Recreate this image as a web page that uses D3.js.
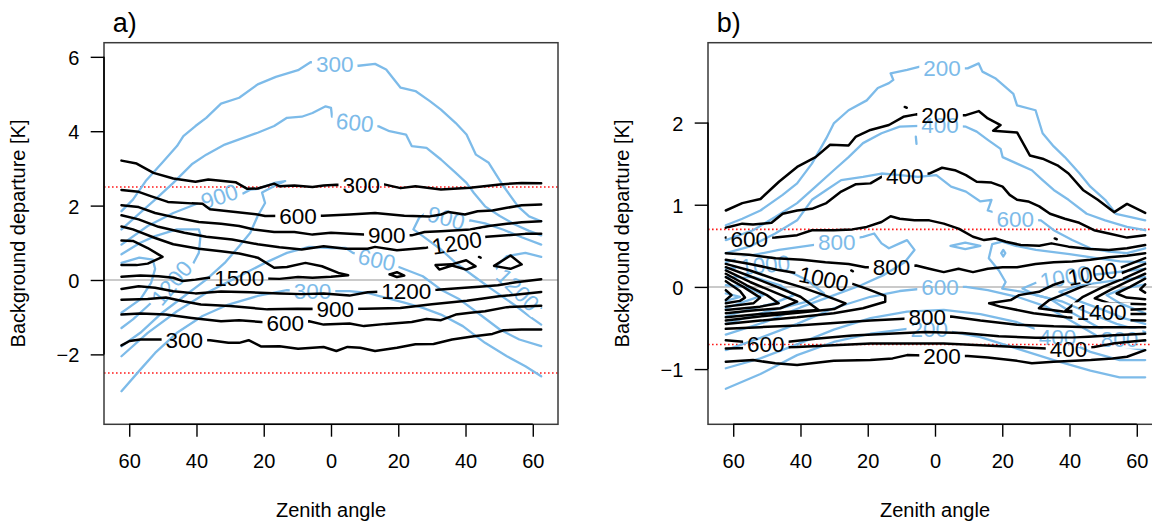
<!DOCTYPE html>
<html><head><meta charset="utf-8">
<script src="https://cdn.jsdelivr.net/npm/d3@7"></script>
<style>body{margin:0;background:#fff}svg{display:block}text{font-family:"Liberation Sans",Arial,Helvetica,sans-serif}</style>
</head><body><svg id="c" width="1152" height="523"></svg>
<script>
// ---------- axes data ----------
const xDomain = [-67.5, 67.5];
const xTicks = [-60, -40, -20, 0, 20, 40, 60];
const xTickLabels = ["60", "40", "20", "0", "20", "40", "60"];
const aYDomain = [-3.88, 6.38];
const aYTicks = [-2, 0, 2, 4, 6];
const aYTickLabels = ["\u22122", "0", "2", "4", "6"];
const bYDomain = [-1.672, 2.972];
const bYTicks = [-1, 0, 1, 2];
const bYTickLabels = ["\u22121", "0", "1", "2"];
const aRefLines = [2.5, -2.5];
const bRefLines = [0.7, -0.7];

// ---------- panel a : black contours ----------
const aK300Up = [[-62.3,3.21],[-57.8,3.13],[-52.8,2.88],[-46.9,2.73],[-40.3,2.64],[-36.5,2.70],[-28.4,2.63],[-24.9,2.45],[-21.8,2.46],[-16.9,2.59],[-15.3,2.52],[-10.9,2.54],[-5.5,2.50],[-2.2,2.54],[1.6,2.56],[9,2.55],[15.8,2.57],[20.7,2.47],[25.1,2.52],[32.7,2.43],[41.4,2.48],[50.2,2.57],[56.7,2.61],[62.5,2.60]];
const aK600Up = [[-62.3,2.42],[-57.2,2.37],[-53.4,2.25],[-48.5,2.10],[-41.4,2.06],[-38.2,2.05],[-36.0,1.90],[-28.4,1.83],[-21.8,1.76],[-19.6,1.72],[-9.8,1.73],[-2.4,1.73],[5.5,1.76],[13.1,1.80],[21.8,1.73],[29.4,1.71],[32.7,1.76],[34.9,1.83],[39.8,1.76],[43.6,1.85],[48.0,1.87],[52.3,1.94],[56.7,2.01],[62.5,2.03]];
const aK900Up = [[-62.3,2.01],[-57.2,1.96],[-52.3,1.80],[-45.8,1.67],[-39.3,1.56],[-32.7,1.51],[-27.3,1.45],[-22.9,1.36],[-16.9,1.29],[-10.9,1.29],[-5.5,1.22],[0,1.27],[9.8,1.22],[16.6,1.21],[24.0,1.20],[27.8,1.29],[32.7,1.31],[41.4,1.36],[46.9,1.45],[52.3,1.51],[56.7,1.55],[62.5,1.58]];
const aK1200Up = [[-62.3,1.74],[-57.2,1.63],[-51.3,1.43],[-43.6,1.27],[-37.1,1.16],[-29.4,1.09],[-21.8,0.96],[-15.3,0.88],[-8.7,0.82],[-2.2,0.91],[4.4,0.84],[10.9,0.84],[13.1,0.89],[19.6,0.80],[28.4,0.87],[37.4,1.0],[46.3,1.16],[52.3,1.20],[57.8,1.24],[62.5,1.24]];
const aK1500 = [[-62.3,1.44],[-58.9,1.36],[-52.3,1.13],[-46.9,0.96],[-39.3,0.84],[-32.7,0.77],[-27.3,0.71],[-21.8,0.60],[-16.9,0.33],[-13.1,0.35],[-7.6,0.46],[-2.7,0.37],[2.2,0.19],[5.1,0.13],[0,0.09],[-5.5,0.06],[-9.8,0.08],[-15.3,0.03],[-27.3,0.06],[-36.5,0.06],[-40.3,0.01],[-44.1,-0.03],[-46.9,0.06],[-51.3,0.10],[-56.7,0.12],[-62.3,0.09]];
const aK1800 = [[-62.3,1.06],[-58.9,1.05],[-54.5,0.86],[-50.1,0.62],[-54.5,0.44],[-57.8,0.40],[-62.3,0.40]];
const aK1500LoopA = [[17.4,0.15],[19.6,0.21],[21.8,0.12],[19.6,0.08],[17.4,0.15]];
const aK1500LoopB = [[31.1,0.40],[35.9,0.42],[40.2,0.53],[43.0,0.37],[40.2,0.28],[36.0,0.39],[32.2,0.28],[31.1,0.40]];
const aK1500LoopC = [[48.5,0.38],[53.4,0.66],[56.7,0.42],[53.4,0.30],[48.5,0.38]];
const aK1500Dot = [[44.0,0.62],[44.5,0.60]];
const aK1200Lo = [[-62.3,-0.24],[-57.2,-0.17],[-52.3,-0.21],[-46.9,-0.30],[-40.3,-0.36],[-32.7,-0.31],[-24.0,-0.33],[-15.3,-0.36],[-8.7,-0.38],[-2.2,-0.36],[5.5,-0.42],[10.9,-0.33],[22.4,-0.28],[31.6,-0.26],[39.8,-0.21],[44.1,-0.18],[49.6,-0.14],[55.0,-0.06],[62.5,0.02]];
const aK900Lo = [[-62.3,-0.53],[-54.5,-0.51],[-49.1,-0.47],[-43.6,-0.58],[-38.7,-0.66],[-30,-0.70],[-18.9,-0.79],[-10,-0.77],[1.3,-0.78],[10,-0.77],[20.6,-0.75],[30,-0.65],[40.4,-0.56],[50,-0.44],[62.5,-0.32]];
const aK600Lo = [[-62.3,-0.93],[-56.7,-0.90],[-49.1,-0.93],[-41.4,-1.02],[-32.7,-1.11],[-27.3,-1.08],[-20.7,-1.13],[-13.6,-1.15],[-6.5,-1.11],[-2.2,-1.20],[5.5,-1.17],[9.8,-1.24],[16.4,-1.18],[24.0,-1.13],[28.4,-1.05],[32.7,-1.08],[37.1,-0.93],[41.4,-0.88],[45.8,-0.84],[52.3,-0.73],[56.7,-0.71],[62.5,-0.69]];
const aK300Lo = [[-62.3,-1.76],[-59.9,-1.64],[-56.7,-1.60],[-51.3,-1.60],[-43.6,-1.60],[-36.0,-1.62],[-30.5,-1.69],[-27.3,-1.69],[-24.5,-1.62],[-20.7,-1.79],[-15.3,-1.78],[-9.8,-1.85],[-2.2,-1.80],[1.6,-1.91],[4.9,-1.80],[8.7,-1.82],[13.1,-1.91],[19.6,-1.82],[25.1,-1.73],[30.5,-1.72],[36.0,-1.60],[42.5,-1.51],[48.0,-1.45],[51.3,-1.35],[56.7,-1.33],[62.5,-1.33]];
const aBlackLines = [aK300Up, aK600Up, aK900Up, aK1200Up, aK1500, aK1800, aK1500LoopA, aK1500LoopB, aK1500LoopC, aK1500Dot, aK1200Lo, aK900Lo, aK600Lo, aK300Lo];
const aBlackLabels = [[9.0,2.55,"300",0],[-9.8,1.73,"600",0],[16.6,1.21,"900",0],[37.4,1.0,"1200",-9],[-27.3,0.06,"1500",0],[22.4,-0.28,"1200",0],[1.3,-0.78,"900",0],[-13.6,-1.15,"600",0],[-43.6,-1.60,"300",0]];

// ---------- panel a : blue contours ----------
const aB300Up = [[-62.3,1.85],[-58.9,2.16],[-55.1,2.66],[-50.2,3.15],[-45.8,3.60],[-43.9,3.87],[-40.3,4.14],[-37.1,4.36],[-32.7,4.74],[-27.3,4.90],[-21.8,5.26],[-16.4,5.46],[-9.8,5.64],[-6.0,5.86],[1.1,5.81],[8.2,5.76],[13.1,5.81],[16.4,5.66],[20.7,5.17],[25.1,5.08],[29.4,4.81],[32.7,4.58],[37.1,4.22],[40.3,3.91],[43.1,3.37],[46.9,3.15],[51.3,2.52],[55.6,1.98],[58.9,1.71],[62.5,1.58]];
const aB600Up = [[-62.3,1.36],[-56.7,1.81],[-52.3,2.16],[-46.9,2.61],[-41.4,3.11],[-37.1,3.37],[-31.6,3.64],[-27.3,3.78],[-21.8,3.96],[-16.9,4.14],[-13.1,4.36],[-8.7,4.39],[-5.5,4.49],[-1.6,4.67],[0,4.63],[0.3,4.39],[7.1,4.24],[14.2,4.13],[17.4,4.00],[22.3,3.91],[24.0,3.60],[28.4,3.55],[32.7,3.24],[37.1,2.88],[40.3,2.61],[42.5,2.34],[45.8,1.98],[50.2,1.72],[54.5,1.50],[58.9,1.32],[62.5,1.20]];
const aB900Left = [[-62.3,0.95],[-54.5,1.45],[-46.9,1.80],[-39.3,2.07],[-33.2,2.25],[-26.7,2.30],[-24.0,2.43],[-21.8,2.45],[-16.4,2.62],[-13.6,2.66],[-16.4,2.55],[-20.5,2.35],[-19.6,2.07],[-21.8,1.72],[-24.0,1.27],[-27.3,0.91],[-31.6,0.46],[-37.1,0.01],[-43.6,-0.43],[-50.2,-0.88],[-56.7,-1.42],[-62.3,-1.78]];
const aB900Right = [[62.5,0.95],[56.7,1.15],[51.3,1.35],[45.8,1.52],[41.4,1.60],[34.3,1.67],[28.4,1.81],[26.2,1.67],[24.5,1.36],[27.3,1.18],[32.7,0.82],[37.1,0.46],[42.5,0.10],[48.0,-0.26],[55.0,-0.70],[58.9,-0.97],[62.5,-1.20]];
const aB1200Left = [[-62.3,0.69],[-56.7,1.0],[-52.3,1.18],[-45.8,1.36],[-39.3,1.36],[-38.8,1.2],[-39.3,0.73],[-41.4,0.37],[-47.4,-0.08],[-50.2,-0.34],[-54.5,-0.70],[-58.9,-1.06],[-62.3,-1.29]];
const aB1200Right = [[62.5,0.62],[57.8,0.73],[52.3,0.64],[49.1,0.37],[50.7,0.01],[55.6,-0.26],[59.9,-0.57],[62.5,-0.75]];
const aB1500Left = [[-62.3,0.46],[-57,0.6],[-53,0.55],[-52.3,0.3],[-53.5,-0.08],[-56.7,-0.52],[-62.3,-0.88]];
const aB600Lo = [[-62.3,-2.05],[-54.5,-1.42],[-45.8,-0.84],[-37.1,-0.35],[-27.3,0.10],[-19.6,0.46],[-13.1,0.73],[-6.5,0.89],[0,0.86],[4.4,0.86],[6.5,0.73],[13.6,0.55],[19.6,0.37],[27.3,0.10],[32.7,-0.26],[38.2,-0.52],[43.6,-0.88],[50.2,-1.33],[56,-1.60],[62.5,-1.78]];
const aB300Lo = [[-62.3,-2.99],[-56.7,-2.41],[-52.3,-1.96],[-45.8,-1.42],[-38.2,-0.97],[-30.5,-0.66],[-21.8,-0.43],[-13.1,-0.27],[-5.5,-0.30],[1.1,-0.30],[5.5,-0.30],[10.9,-0.35],[16.4,-0.48],[21.8,-0.61],[27.3,-0.75],[32.7,-0.93],[39.2,-1.24],[45.8,-1.69],[52.3,-2.05],[57.8,-2.32],[62.5,-2.59]];
const aBlueLines = [aB300Up, aB600Up, aB900Left, aB900Right, aB1200Left, aB1200Right, aB1500Left, aB600Lo, aB300Lo];
const aBlueLabels = [[1.1,5.81,"300",0],[7.1,4.24,"600",6],[-33.2,2.25,"900",-18],[34.3,1.67,"900",15],[13.6,0.55,"600",12],[-47.4,-0.08,"1200",-50],[-5.5,-0.30,"300",0],[55.6,-0.26,"1200",45]];

// ---------- panel b : black contours ----------
const bK200Up = [[-62.2,0.93],[-57.3,1.02],[-51.9,1.07],[-46.4,1.28],[-41.0,1.46],[-35.5,1.58],[-31.2,1.73],[-25.7,1.72],[-23.5,1.83],[-19.2,1.91],[-13.7,1.97],[-9.4,2.07],[-5.6,2.10],[1.5,2.09],[9.2,2.09],[13.0,2.14],[15.7,2.05],[19.5,1.97],[17.3,1.90],[24.4,1.88],[28.2,1.60],[32.0,1.56],[36.4,1.48],[39.7,1.38],[44.0,1.18],[48.4,1.06],[53.3,0.91],[57.1,1.01],[62.5,0.90]];
const bK200Dot = [[-9.0,2.19],[-8.4,2.18]];
const bK400Up = [[-62.2,0.72],[-57.3,0.77],[-54.1,0.76],[-48.6,0.78],[-45.3,0.89],[-41.0,0.93],[-36.6,0.95],[-32.3,1.02],[-27.9,1.16],[-23.5,1.25],[-19.2,1.26],[-15.9,1.34],[-9.0,1.35],[-1.7,1.38],[2.1,1.45],[5.9,1.42],[9.2,1.36],[12.4,1.28],[16.8,1.27],[20.1,1.22],[22.2,1.12],[24.4,1.06],[27.7,1.04],[31.0,0.98],[34.2,0.89],[38.6,0.83],[42.9,0.78],[47.3,0.69],[51.7,0.65],[57.1,0.60],[62.5,0.63]];
const bK600Up = [[-62.2,0.60],[-55.2,0.59],[-47.5,0.60],[-41.0,0.63],[-36.6,0.69],[-30.1,0.69],[-24.6,0.70],[-20.3,0.73],[-15.9,0.79],[-13.2,0.86],[-10.5,0.83],[-6.1,0.81],[-1.7,0.81],[2.6,0.77],[7.0,0.71],[11.3,0.61],[14.6,0.57],[17.9,0.59],[21.1,0.55],[25.5,0.51],[31.0,0.50],[34.6,0.53],[39.7,0.49],[46.2,0.46],[51.7,0.45],[57.1,0.47],[62.5,0.51]];
const bK600Dot = [[35.6,0.59],[36.2,0.58]];
const bK800Up = [[-62.2,0.41],[-55.3,0.39],[-47.4,0.35],[-39.5,0.33],[-32.6,0.30],[-25.7,0.28],[-20.7,0.24],[-12.9,0.24],[-5.6,0.26],[-1.7,0.22],[2.6,0.18],[7.0,0.22],[11.3,0.18],[15.7,0.22],[20.1,0.24],[24.4,0.24],[29.9,0.28],[35.3,0.30],[40.8,0.31],[46.2,0.33],[51.7,0.36],[57.1,0.38],[62.5,0.41]];
const bK800Dot = [[-24.9,0.20],[-24.4,0.19]];
const bK1000L = [[-62.2,0.33],[-55,0.28],[-47,0.21],[-40,0.16],[-33.1,0.10],[-24.7,0.04],[-19.8,-0.03],[-14.8,-0.11],[-14.8,-0.18],[-21.4,-0.26],[-30.1,-0.32],[-41.0,-0.37],[-51.9,-0.41],[-62.2,-0.45]];
const bK1200L = [[-62.2,0.28],[-55,0.20],[-48,0.10],[-40,0.0],[-33,-0.10],[-26.6,-0.20],[-30,-0.27],[-40,-0.31],[-50,-0.35],[-62.2,-0.41]];
const bK1400L = [[-62.2,0.24],[-55,0.13],[-47,0.0],[-40,-0.12],[-34.6,-0.28],[-42,-0.30],[-52,-0.33],[-62.2,-0.37]];
const bK1600L = [[-62.2,0.20],[-55,0.06],[-48,-0.06],[-41,-0.18],[-46,-0.26],[-55,-0.29],[-62.2,-0.32]];
const bK1800L = [[-62.2,0.16],[-56,0.02],[-50,-0.10],[-46.5,-0.20],[-52,-0.24],[-62.2,-0.28]];
const bK2000L = [[-62.2,0.12],[-57,0.0],[-52,-0.13],[-54,-0.20],[-62.2,-0.24]];
const bK2200L = [[-62.2,0.07],[-58,-0.05],[-56.5,-0.13],[-58,-0.17],[-62.2,-0.20]];
const bK2400L = [[-62.2,-0.04],[-60.5,-0.10],[-62.2,-0.16]];
const bK1000R = [[62.5,0.35],[55.6,0.24],[46.8,0.16],[39.2,0.08],[34.9,0.02],[30.9,-0.06],[25.0,-0.10],[22.5,-0.16],[16.1,-0.20],[19.4,-0.24],[29.3,-0.32],[39.2,-0.37],[49.1,-0.40],[62.5,-0.41]];
const bK1200R = [[62.5,0.28],[55,0.16],[47,0.06],[40,-0.06],[34,-0.16],[30.9,-0.26],[38,-0.30],[48,-0.33],[62.5,-0.33]];
const bK1400R = [[62.5,0.22],[56,0.10],[50,0.0],[44,-0.12],[38.8,-0.29],[44,-0.30],[49.5,-0.31],[56,-0.28],[62.5,-0.27]];
const bK1600R = [[62.5,0.16],[57,0.06],[52,-0.04],[47.5,-0.14],[52,-0.20],[62.5,-0.21]];
const bK1800R = [[62.5,0.10],[58,0.0],[54,-0.08],[57,-0.13],[62.5,-0.15]];
const bK2000R = [[62.5,0.03],[61,-0.03],[62.5,-0.07]];
const bK800Lo = [[-62.2,-0.51],[-51.9,-0.49],[-41.0,-0.47],[-30.1,-0.44],[-19.2,-0.41],[-10.5,-0.39],[-2.3,-0.37],[4.8,-0.36],[13.5,-0.41],[24.4,-0.46],[35.3,-0.48],[46.2,-0.49],[55,-0.49],[62.5,-0.49]];
const bK600Lo = [[-62.2,-0.65],[-50.3,-0.69],[-44.3,-0.67],[-35.5,-0.63],[-24.6,-0.59],[-13.7,-0.57],[-2.8,-0.55],[8.1,-0.56],[19.0,-0.60],[29.9,-0.62],[40.8,-0.62],[51.7,-0.59],[62.5,-0.57]];
const bK400Lo = [[-62.2,-0.75],[-51.9,-0.74],[-41.0,-0.73],[-30.1,-0.71],[-19.2,-0.69],[-8.3,-0.69],[2.6,-0.69],[13.5,-0.71],[24.4,-0.73],[33.1,-0.75],[39.7,-0.75],[47.3,-0.73],[52.8,-0.69],[57.1,-0.67],[62.5,-0.65]];
const bK200Lo = [[-62.2,-0.91],[-54.1,-0.89],[-47.5,-0.93],[-41.0,-0.95],[-36.6,-0.93],[-30.1,-0.90],[-19.2,-0.89],[-12.6,-0.87],[-8.3,-0.83],[2.1,-0.84],[9.7,-0.84],[15.7,-0.86],[24.4,-0.90],[28.8,-0.93],[35.3,-0.91],[46.2,-0.89],[52.8,-0.87],[57.1,-0.85],[62.5,-0.77]];
const bBlackLines = [bK200Up, bK200Dot, bK400Up, bK600Up, bK600Dot, bK800Up, bK800Dot, bK1000L, bK1200L, bK1400L, bK1600L, bK1800L, bK2000L, bK2200L, bK2400L, bK1000R, bK1200R, bK1400R, bK1600R, bK1800R, bK2000R, bK800Lo, bK600Lo, bK400Lo, bK200Lo];
const bBlackLabels = [[1.5,2.09,"200",0],[-9.0,1.35,"400",0],[-55.2,0.59,"600",0],[-12.9,0.24,"800",0],[-33.1,0.10,"1000",12],[46.8,0.16,"1000",-10],[49.5,-0.31,"1400",0],[-2.3,-0.37,"800",0],[-50.3,-0.69,"600",0],[39.7,-0.75,"400",0],[2.1,-0.84,"200",0]];

// ---------- panel b : blue contours ----------
const bB200Up = [[-62.2,0.75],[-57.3,0.83],[-51.9,0.93],[-45.3,1.12],[-41.0,1.26],[-36.6,1.50],[-32.3,1.81],[-30.1,1.99],[-25.7,2.15],[-20.3,2.27],[-17.0,2.42],[-13.7,2.48],[-12.4,2.52],[-13.2,2.60],[-8.3,2.64],[-4.5,2.68],[2.1,2.66],[9.7,2.66],[13.0,2.72],[14.1,2.62],[17.9,2.54],[23.3,2.35],[24.4,2.21],[29.9,2.15],[32.0,1.87],[35.3,1.71],[38.6,1.58],[43.0,1.38],[46.2,1.22],[50.6,1.06],[53.8,0.89],[58.2,0.85],[62.5,0.81]];
const bB400Up = [[-62.2,0.57],[-54.1,0.69],[-47.5,0.85],[-41.0,1.02],[-35.5,1.22],[-30.1,1.42],[-25.7,1.58],[-21.4,1.75],[-15.9,1.87],[-10.5,1.95],[1.5,1.97],[9.2,1.95],[12.4,1.89],[15.7,1.79],[19.5,1.68],[20.1,1.58],[24.4,1.50],[28.8,1.42],[32.0,1.30],[35.3,1.18],[39.7,1.06],[45.1,0.89],[50.6,0.81],[57.1,0.73],[62.5,0.69]];
const bB400Tick = [[-5.7,1.83],[-5.5,1.74]];
const bB600Up = [[-62.2,0.41],[-55.2,0.49],[-47.5,0.65],[-41.0,0.81],[-36.6,1.06],[-32.3,1.18],[-27.9,1.30],[-21.4,1.34],[-15.9,1.38],[-10.5,1.36],[-5.0,1.34],[0.4,1.36],[4.8,1.22],[9.2,1.16],[13.5,1.04],[16.8,1.06],[15.7,0.93],[23.9,0.83],[31.5,0.81],[35.3,0.69],[40.8,0.57],[46.2,0.47],[51.7,0.43],[57.1,0.41],[62.5,0.47]];
const bB800L = [[-62.2,0.30],[-55,0.38],[-46.4,0.45],[-38,0.50],[-29.2,0.55],[-21.4,0.61],[-18.1,0.65],[-15.9,0.53],[-13.7,0.47],[-10.5,0.53],[-8.3,0.57],[-6.1,0.45],[-9,0.30],[-15,0.15],[-22,0.02],[-30,-0.10],[-40,-0.25],[-50,-0.42],[-62.2,-0.58]];
const bB800Loop = [[4.6,0.50],[9,0.54],[13.5,0.50],[9,0.46],[4.6,0.50]];
const bB800Dia = [[19.7,0.41],[20.3,0.45],[20.9,0.41],[20.3,0.37],[19.7,0.41]];
const bB800R = [[62.5,0.30],[55,0.31],[48,0.35],[40,0.40],[30,0.45],[24,0.50],[20,0.55],[17,0.52],[16,0.35],[19,0.20],[21,0.06],[20,-0.02],[26,-0.06],[34,-0.14],[41,-0.32],[48,-0.48],[54.9,-0.63],[62.5,-0.66]];
const bB1000L = [[-62.2,0.22],[-56,0.25],[-50.5,0.27],[-45,0.22],[-38,0.08],[-33,-0.08],[-38,-0.18],[-50,-0.30],[-62.2,-0.45]];
const bB1200L = [[-62.2,0.12],[-54,0.12],[-46,0.02],[-42,-0.10],[-48,-0.20],[-55,-0.27],[-62.2,-0.36]];
const bB1400L = [[-62.2,0.02],[-56,0.0],[-51,-0.10],[-56,-0.17],[-62.2,-0.26]];
const bB1600L = [[-62.2,-0.08],[-58,-0.12],[-62.2,-0.17]];
const bB1000R = [[62.5,0.22],[50,0.16],[38.6,0.12],[30,0.05],[26,-0.02],[30,-0.10],[38,-0.18],[46,-0.32],[54,-0.45],[62.5,-0.55]];
const bB1200R = [[62.5,0.12],[52,0.07],[43,0.02],[37,-0.06],[42,-0.16],[50,-0.28],[56,-0.38],[62.5,-0.45]];
const bB1400R = [[62.5,0.03],[56,-0.02],[51,-0.10],[55,-0.20],[62.5,-0.32]];
const bB600Lo = [[-62.2,-0.77],[-51.9,-0.62],[-41.0,-0.45],[-30.1,-0.26],[-19.2,-0.12],[-10.5,-0.05],[1.5,0.0],[9.2,0.0],[15.7,-0.04],[24.4,-0.12],[33.1,-0.24],[40.8,-0.42],[48.4,-0.60],[54.9,-0.72],[62.5,-0.77]];
const bB400Lo = [[-62.2,-0.99],[-51.9,-0.87],[-41.0,-0.70],[-30.1,-0.52],[-19.2,-0.38],[-8.3,-0.30],[2.6,-0.28],[13.5,-0.33],[24.4,-0.43],[36.4,-0.61],[46.2,-0.79],[54.9,-0.89],[62.5,-0.89]];
const bB200Lo = [[-62.2,-1.24],[-51.9,-1.06],[-41.0,-0.83],[-30.1,-0.67],[-19.2,-0.57],[-8.3,-0.51],[-1.7,-0.51],[2.6,-0.53],[13.5,-0.61],[24.4,-0.75],[35.3,-0.89],[46.2,-1.02],[54.9,-1.10],[62.5,-1.10]];
const bBlueLines = [bB200Up, bB400Up, bB400Tick, bB600Up, bB800L, bB800Loop, bB800Dia, bB800R, bB1000L, bB1200L, bB1400L, bB1600L, bB1000R, bB1200R, bB1400R, bB600Lo, bB400Lo, bB200Lo];
const bBlueLabels = [[2.1,2.66,"200",0],[1.5,1.97,"400",0],[23.9,0.83,"600",0],[-29.2,0.55,"800",0],[1.5,0.0,"600",0],[-1.7,-0.51,"200",0],[36.4,-0.61,"400",0],[54.9,-0.63,"800",0],[38.6,0.12,"1000",-10],[-50.5,0.27,"1000",-5]];

// ---------- drawing ----------
const BLUE = "#7dbbe9";
const svg = d3.select("#c");
const defs = svg.append("defs");
const TOP = 42.7, BOT = 424.3, W = 454;

function drawPanel(p) {
  const x = d3.scaleLinear().domain(xDomain).range([p.left, p.left + W]);
  const y = d3.scaleLinear().domain(p.yDomain).range([BOT, TOP]);
  const clipId = "clip" + p.id;
  defs.append("clipPath").attr("id", clipId).append("rect")
    .attr("x", p.left).attr("y", TOP).attr("width", W).attr("height", BOT - TOP);
  const inner = svg.append("g").attr("clip-path", `url(#${clipId})`);
  inner.append("line").attr("x1", p.left).attr("x2", p.left + W)
    .attr("y1", y(0)).attr("y2", y(0)).attr("stroke", "#b8b8b8").attr("stroke-width", 1.5);
  p.refLines.forEach(v => inner.append("line").attr("x1", p.left).attr("x2", p.left + W)
    .attr("y1", y(v)).attr("y2", y(v)).attr("stroke", "#ff1a1a").attr("stroke-width", 1.6)
    .attr("stroke-dasharray", "1.6,2.4"));
  const line = d3.line().x(d => x(d[0])).y(d => y(d[1]));
  [["blue", p.blueLines, p.blueLabels, BLUE, 2.3], ["black", p.blackLines, p.blackLabels, "#000", 2.5]]
  .forEach(([name, lines, labels, color, w]) => {
    const maskId = `m${p.id}${name}`;
    const mask = defs.append("mask").attr("id", maskId).attr("maskUnits", "userSpaceOnUse")
      .attr("x", 0).attr("y", 0).attr("width", 1152).attr("height", 523);
    mask.append("rect").attr("width", 1152).attr("height", 523).attr("fill", "white");
    const lg = inner.append("g").attr("mask", `url(#${maskId})`);
    lines.forEach(pts => lg.append("path").attr("d", line(pts)).attr("fill", "none")
      .attr("stroke", color).attr("stroke-width", w).attr("stroke-linejoin", "round").attr("stroke-linecap", "round"));
    const tg = inner.append("g");
    labels.forEach(([lx, ly, t, a]) => {
      const cx = x(lx), cy = y(ly);
      const txt = tg.append("text").attr("x", cx).attr("y", cy).attr("text-anchor", "middle")
        .attr("dy", "0.36em").attr("font-size", 22.5).attr("fill", color)
        .attr("transform", `rotate(${a},${cx},${cy})`).text(t);
      const wd = txt.node().getComputedTextLength();
      mask.append("rect").attr("x", cx - wd / 2 - 4).attr("y", cy - 10).attr("width", wd + 8).attr("height", 20)
        .attr("fill", "black").attr("transform", `rotate(${a},${cx},${cy})`);
    });
  });
  // box
  svg.append("rect").attr("x", p.left).attr("y", TOP).attr("width", W).attr("height", BOT - TOP)
    .attr("fill", "none").attr("stroke", "#3a3a3a").attr("stroke-width", 1.5);
  // x axis
  const xa = svg.append("g").attr("transform", `translate(0,${BOT})`)
    .call(d3.axisBottom(x).tickValues(xTicks).tickFormat((d, i) => xTickLabels[i]).tickSize(12.4).tickPadding(17.2));
  xa.select(".domain").remove();
  xa.append("line").attr("x1", x(xTicks[0])).attr("x2", x(xTicks[xTicks.length - 1])).attr("stroke", "#000").attr("stroke-width", 1.6);
  xa.selectAll(".tick line").attr("stroke", "#000").attr("stroke-width", 1.4);
  xa.selectAll("text").attr("font-size", 20).attr("fill", "#000").attr("font-family", null);
  // y axis
  const ya = svg.append("g").attr("transform", `translate(${p.left},0)`)
    .call(d3.axisLeft(y).tickValues(p.yTicks).tickFormat((d, i) => p.yTickLabels[i]).tickSize(13.3).tickPadding(11.4));
  ya.select(".domain").remove();
  ya.append("line").attr("y1", y(p.yTicks[0])).attr("y2", y(p.yTicks[p.yTicks.length - 1])).attr("stroke", "#000").attr("stroke-width", 1.6);
  ya.selectAll(".tick line").attr("stroke", "#000").attr("stroke-width", 1.4);
  ya.selectAll("text").attr("font-size", 20).attr("fill", "#000").attr("dy", "0.38em").attr("font-family", null);
  // titles
  svg.append("text").attr("x", p.left + W / 2).attr("y", 516.5).attr("text-anchor", "middle")
    .attr("font-size", 20).text("Zenith angle");
  svg.append("text").attr("transform", `translate(${p.left - 78.7},233.5) rotate(-90)`)
    .attr("text-anchor", "middle").attr("font-size", 20).text("Background departure [K]");
  svg.append("text").attr("x", p.left + 8.7).attr("y", 31.7).attr("font-size", 27).text(p.tag);
}

drawPanel({ id: "a", left: 104, yDomain: aYDomain, yTicks: aYTicks, yTickLabels: aYTickLabels, refLines: aRefLines,
  blueLines: aBlueLines, blueLabels: aBlueLabels, blackLines: aBlackLines, blackLabels: aBlackLabels, tag: "a)" });
drawPanel({ id: "b", left: 708, yDomain: bYDomain, yTicks: bYTicks, yTickLabels: bYTickLabels, refLines: bRefLines,
  blueLines: bBlueLines, blueLabels: bBlueLabels, blackLines: bBlackLines, blackLabels: bBlackLabels, tag: "b)" });
</script></body></html>
